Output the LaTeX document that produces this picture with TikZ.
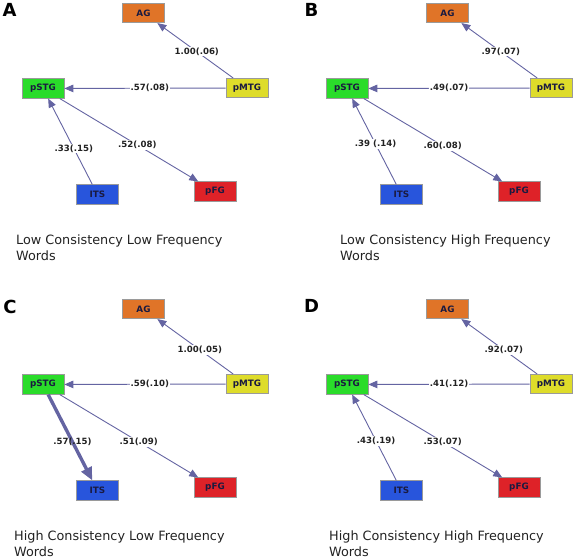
\documentclass[tikz,border=0pt]{standalone}
\usepackage{fontspec}
\setmainfont{DejaVu Sans}
\usetikzlibrary{arrows.meta}
\definecolor{agorange}{HTML}{E07428}
\definecolor{mtgyellow}{HTML}{DEDC2A}
\definecolor{stggreen}{HTML}{2ADC2A}
\definecolor{itsblue}{HTML}{2855DC}
\definecolor{fgred}{HTML}{DE2228}
\definecolor{boxline}{HTML}{9A9A9A}
\definecolor{boxtext}{HTML}{1A1A40}
\definecolor{edge}{HTML}{6464A2}
\definecolor{ink}{HTML}{222222}
\tikzset{
  box/.style={draw=boxline, line width=0.6pt, minimum width=42pt, minimum height=19.5pt,
              inner sep=0pt, font=\bfseries\fontsize{8.8}{10}\selectfont, text=boxtext},
  arr/.style={-{Triangle[length=9pt, width=7.5pt]}, line width=0.9pt, draw=edge},
  fatarr/.style={-{Triangle[length=13pt, width=11pt]}, line width=3.4pt, draw=edge},
  lbl/.style={fill=white, inner sep=1pt, font=\bfseries\fontsize{8.6}{10}\selectfont, text=ink},
  caption/.style={anchor=north west, inner sep=0pt, align=left,
                  font=\fontsize{12.8}{16}\selectfont, text=ink},
  letter/.style={font=\bfseries\fontsize{18}{20}\selectfont, text=black, inner sep=0pt},
}

\begin{document}
\begin{tikzpicture}[x=1pt, y=-1pt]
\useasboundingbox (0,0) rectangle (577,559);

% --- panel A ---
\begin{scope}
\node[letter] (aLetter) at (9.5,10) {A};
\node[box, fill=agorange] (aAG) at (143.5,13) {AG};
\node[box, fill=mtgyellow] (aMTG) at (247,88) {pMTG};
\node[box, fill=stggreen] (aSTG) at (43,88.5) {pSTG};
\node[box, fill=itsblue] (aITS) at (97.5,194.5) {ITS};
\node[box, fill=fgred] (aFG) at (215,191.5) {pFG};
\draw[arr] (aMTG) -- node[lbl, pos=0.48] {1.00(.06)} (aAG);
\draw[arr] (aMTG) -- node[lbl, pos=0.47] {.57(.08)} (aSTG);
\draw[arr] (aITS) -- node[lbl, pos=0.42] {.33(.15)} (aSTG);
\draw[arr] (aSTG) -- node[lbl, pos=0.56] {.52(.08)} (aFG);
\node[caption] (aCap) at (16,235) {Low Consistency Low Frequency\\Words};
\end{scope}

% --- panel B ---
\begin{scope}[shift={(304,0)}]
\node[letter] (bLetter) at (7.5,10) {B};
\node[box, fill=agorange] (bAG) at (143.5,13) {AG};
\node[box, fill=mtgyellow] (bMTG) at (247,88) {pMTG};
\node[box, fill=stggreen] (bSTG) at (43,88.5) {pSTG};
\node[box, fill=itsblue] (bITS) at (97.5,194.5) {ITS};
\node[box, fill=fgred] (bFG) at (215,191.5) {pFG};
\draw[arr] (bMTG) -- node[lbl, pos=0.48] {.97(.07)} (bAG);
\draw[arr] (bMTG) -- node[lbl, pos=0.5] {.49(.07)} (bSTG);
\draw[arr] (bITS) -- node[lbl, pos=0.47] {.39 (.14)} (bSTG);
\draw[arr] (bSTG) -- node[lbl, pos=0.57] {.60(.08)} (bFG);
\node[caption] (bCap) at (36,235) {Low Consistency High Frequency\\Words};
\end{scope}

% --- panel C ---
\begin{scope}[shift={(0,296)}]
\node[letter] (cLetter) at (10,10.5) {C};
\node[box, fill=agorange] (cAG) at (143.5,13) {AG};
\node[box, fill=mtgyellow] (cMTG) at (247,88) {pMTG};
\node[box, fill=stggreen] (cSTG) at (43,88.5) {pSTG};
\node[box, fill=itsblue] (cITS) at (97.5,194.5) {ITS};
\node[box, fill=fgred] (cFG) at (215,191.5) {pFG};
\draw[arr] (cMTG) -- node[lbl, pos=0.44] {1.00(.05)} (cAG);
\draw[arr] (cMTG) -- node[lbl, pos=0.47] {.59(.10)} (cSTG);
\draw[fatarr] (cSTG) -- node[lbl, pos=0.55, fill=none] {.57(.15)} (cITS);
\draw[arr] (cSTG) -- node[lbl, pos=0.57] {.51(.09)} (cFG);
\node[caption] (cCap) at (14,235) {High Consistency Low Frequency\\Words};
\end{scope}

% --- panel D ---
\begin{scope}[shift={(304,296)}]
\node[letter] (dLetter) at (7.5,9.5) {D};
\node[box, fill=agorange] (dAG) at (143.5,13) {AG};
\node[box, fill=mtgyellow] (dMTG) at (247,88) {pMTG};
\node[box, fill=stggreen] (dSTG) at (43,88.5) {pSTG};
\node[box, fill=itsblue] (dITS) at (97.5,194.5) {ITS};
\node[box, fill=fgred] (dFG) at (215,191.5) {pFG};
\draw[arr] (dMTG) -- node[lbl, pos=0.44] {.92(.07)} (dAG);
\draw[arr] (dMTG) -- node[lbl, pos=0.5] {.41(.12)} (dSTG);
\draw[arr] (dITS) -- node[lbl, pos=0.46] {.43(.19)} (dSTG);
\draw[arr] (dSTG) -- node[lbl, pos=0.57] {.53(.07)} (dFG);
\node[caption] (dCap) at (25,235) {High Consistency High Frequency\\Words};
\end{scope}

\end{tikzpicture}
\end{document}
